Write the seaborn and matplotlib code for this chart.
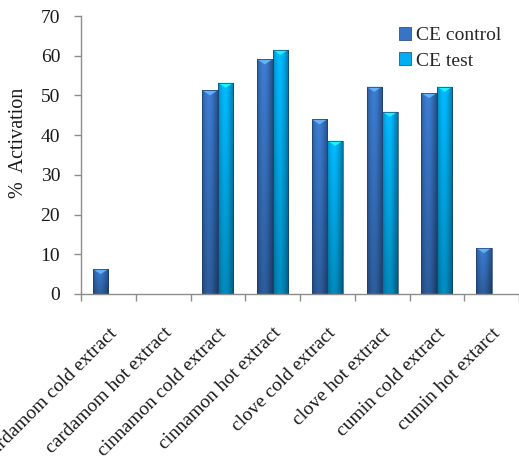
import numpy as np
import pandas as pd
import matplotlib
matplotlib.use("Agg")
import matplotlib.pyplot as plt
import matplotlib.colors as mcolors
from matplotlib.patches import Patch, Polygon
import seaborn as sns

# Activation data per extract
extracts = [
    "cardamom cold extract",
    "cardamom hot extract",
    "cinnamon cold extract",
    "cinnamon hot extract",
    "clove cold extract",
    "clove hot extract",
    "cumin cold extract",
    "cumin hot extarct",
]
series_names = ["CE control", "CE test"]
ce_control = [6.3, 0.0, 51.3, 59.1, 44.0, 52.2, 50.6, 11.6]
ce_test = [0.0, 0.0, 53.2, 61.5, 38.6, 45.9, 52.2, 0.0]
y_ticks = [0, 10, 20, 30, 40, 50, 60, 70]

df = pd.DataFrame({
    "extract": extracts * 2,
    "series": [series_names[0]] * len(extracts) + [series_names[1]] * len(extracts),
    "activation": ce_control + ce_test,
})

base_colors = {"CE control": "#3874C4", "CE test": "#00AEEF"}

sns.set_theme(style="white")
plt.rcParams["font.family"] = ["Liberation Serif", "DejaVu Serif"]

fig = plt.figure(figsize=(5.19, 4.65), dpi=100)
ax = fig.add_axes([81 / 519, 171 / 465, 1 - 81 / 519, 278 / 465])

sns.barplot(
    data=df, x="extract", y="activation", hue="series",
    palette=base_colors, width=0.57, gap=0, saturation=1,
    edgecolor="#1d3f6e", linewidth=0.5, legend=False, ax=ax,
)


def shade(color, bottom_dark=0.74):
    """Build an RGB image with a bevelled horizontal and vertical shading."""
    rgb = np.array(mcolors.to_rgb(color))
    nx, ny = 40, 60
    xs = np.linspace(0, 1, nx)
    ys = np.linspace(0, 1, ny)  # 0 = bottom, 1 = top
    h = 0.80 + 0.28 * np.sin(np.pi * np.clip(xs * 1.15, 0, 1))
    h[-3:] *= 0.85
    v = bottom_dark + (1 - bottom_dark) * ys
    img = rgb[None, None, :] * (v[:, None, None] * h[None, :, None])
    return np.clip(img, 0, 1)


ax.set_xlim(-0.5, 7.5 - 7 / 55.6)
ax.set_ylim(0, 70)

for container, name in zip(ax.containers, series_names):
    img = shade(base_colors[name])
    light = np.clip(np.array(mcolors.to_rgb(base_colors[name])) * 1.35 + 0.12, 0, 1)
    for bar in container:
        hgt = bar.get_height()
        if hgt <= 0:
            continue
        x0, w = bar.get_x(), bar.get_width()
        im = ax.imshow(img, extent=[x0, x0 + w, 0, hgt], origin="lower",
                       aspect="auto", zorder=bar.get_zorder() + 0.1,
                       interpolation="bilinear")
        im.set_clip_path(bar)
        tri_h = 1.3
        tri = Polygon([[x0, hgt], [x0 + w, hgt], [x0 + w / 2, hgt - tri_h]],
                      closed=True, facecolor=light, edgecolor="none",
                      alpha=0.85, zorder=bar.get_zorder() + 0.2)
        ax.add_patch(tri)
        bar.set_facecolor("none")
        bar.set_zorder(bar.get_zorder() + 0.3)

ax.set_xlim(-0.5, 7.5 - 7 / 55.6)
ax.set_ylim(0, 70)

# axes styling
for side in ["top", "right"]:
    ax.spines[side].set_visible(False)
for side in ["left", "bottom"]:
    ax.spines[side].set_color("#8c8c8c")
    ax.spines[side].set_linewidth(1.0)

ax.set_yticks(y_ticks)
ax.set_yticklabels([str(t) for t in y_ticks], fontsize=14, color="#1a1a1a")
ax.tick_params(axis="y", direction="out", length=5, width=1, color="#8c8c8c", pad=10, left=True)

ax.set_xticks(range(len(extracts)))
ax.set_xticklabels(extracts, rotation=45, ha="right", rotation_mode="anchor",
                   fontsize=14, color="#1a1a1a")
ax.tick_params(axis="x", which="major", length=0, pad=22)
ax.set_xticks(np.arange(-0.5, len(extracts), 1.0), minor=True)
ax.tick_params(axis="x", which="minor", direction="out", length=5, width=1,
               color="#8c8c8c", bottom=True)

ax.set_xlabel("")
ax.set_ylabel("%  Activation", fontsize=14.5, color="#1a1a1a")
ax.yaxis.set_label_coords(-0.121, 0.543)
ax.grid(False)

handles = [Patch(facecolor=base_colors[n], edgecolor="#1d3f6e", linewidth=0.5) for n in series_names]
fig.legend(handles, series_names, loc="upper left",
           bbox_to_anchor=(389 / 519, 1 - 17 / 465), frameon=False,
           fontsize=14, handlelength=0.65, handleheight=0.65,
           handletextpad=0.25, labelspacing=0.42, borderpad=0)

fig.savefig("out.png", dpi=100, facecolor="white")
